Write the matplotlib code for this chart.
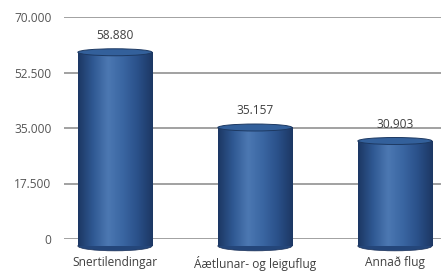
import numpy as np
import matplotlib.pyplot as plt
from matplotlib.colors import LinearSegmentedColormap
from matplotlib.patches import Ellipse, Rectangle
from matplotlib.ticker import FuncFormatter

categories = ['Snertilendingar', 'Áætlunar- og leiguflug', 'Annað flug']
values = [58880, 35157, 30903]
yticks = [0, 17500, 35000, 52500, 70000]

plt.rcParams['font.family'] = ['Open Sans', 'DejaVu Sans']

fig = plt.figure(figsize=(4.41, 2.73), dpi=100)
ax = fig.add_axes([64 / 441, 34 / 273, 377 / 441, 222 / 273])

for s in ax.spines.values():
    s.set_visible(False)

for t in yticks:
    ax.axhline(t, color='#9a9a9a', lw=1.3, zorder=0)

ax.set_yticks(yticks)
ax.yaxis.set_major_formatter(FuncFormatter(lambda v, p: f'{int(v):,}'.replace(',', '.')))
ax.tick_params(axis='y', length=0, pad=9, labelsize=8.6, labelcolor='#555555')

ax.set_xticks(range(len(categories)))
ax.set_xticklabels(categories)
ax.tick_params(axis='x', length=0, pad=12, labelsize=8.6, labelcolor='#404040')

cmap = LinearSegmentedColormap.from_list(
    'cyl', ['#1c3763', '#2f5892', '#4c78b2', '#3a66a2', '#2a5089', '#1c3763'])
grad = np.linspace(0, 1, 256).reshape(1, -1)

width = 0.53
eh = 2200      # ellipse height in data units
below = 2200   # how far the cylinder reaches under the zero line

for i, v in enumerate(values):
    x0 = i - width / 2
    rect = Rectangle((x0, -below), width, v + below, transform=ax.transData,
                     facecolor='none', edgecolor='none')
    ax.add_patch(rect)
    rect.set_clip_on(False)
    bot = Ellipse((i, -below), width, eh * 1.4, facecolor='#24467a', edgecolor='#1a3058',
                  lw=0.5, zorder=2, clip_on=False)
    ax.add_patch(bot)
    img = ax.imshow(grad, cmap=cmap, aspect='auto', extent=(x0, x0 + width, -below, v),
                    zorder=3, clip_on=False)
    img.set_clip_path(rect)
    top = Ellipse((i, v), width, eh, facecolor='#33609b', edgecolor='#1d3962',
                  lw=0.7, zorder=4, clip_on=False)
    ax.add_patch(top)
    ax.annotate(f'{v:,}'.replace(',', '.'), (i, v + eh / 2), xytext=(0, 5),
                textcoords='offset points', ha='center', va='bottom',
                fontsize=8.6, color='#404040')

ax.set_xlim(-0.364, 2.329)
ax.set_ylim(0, 70000)

fig.savefig('out.png', dpi=100)
